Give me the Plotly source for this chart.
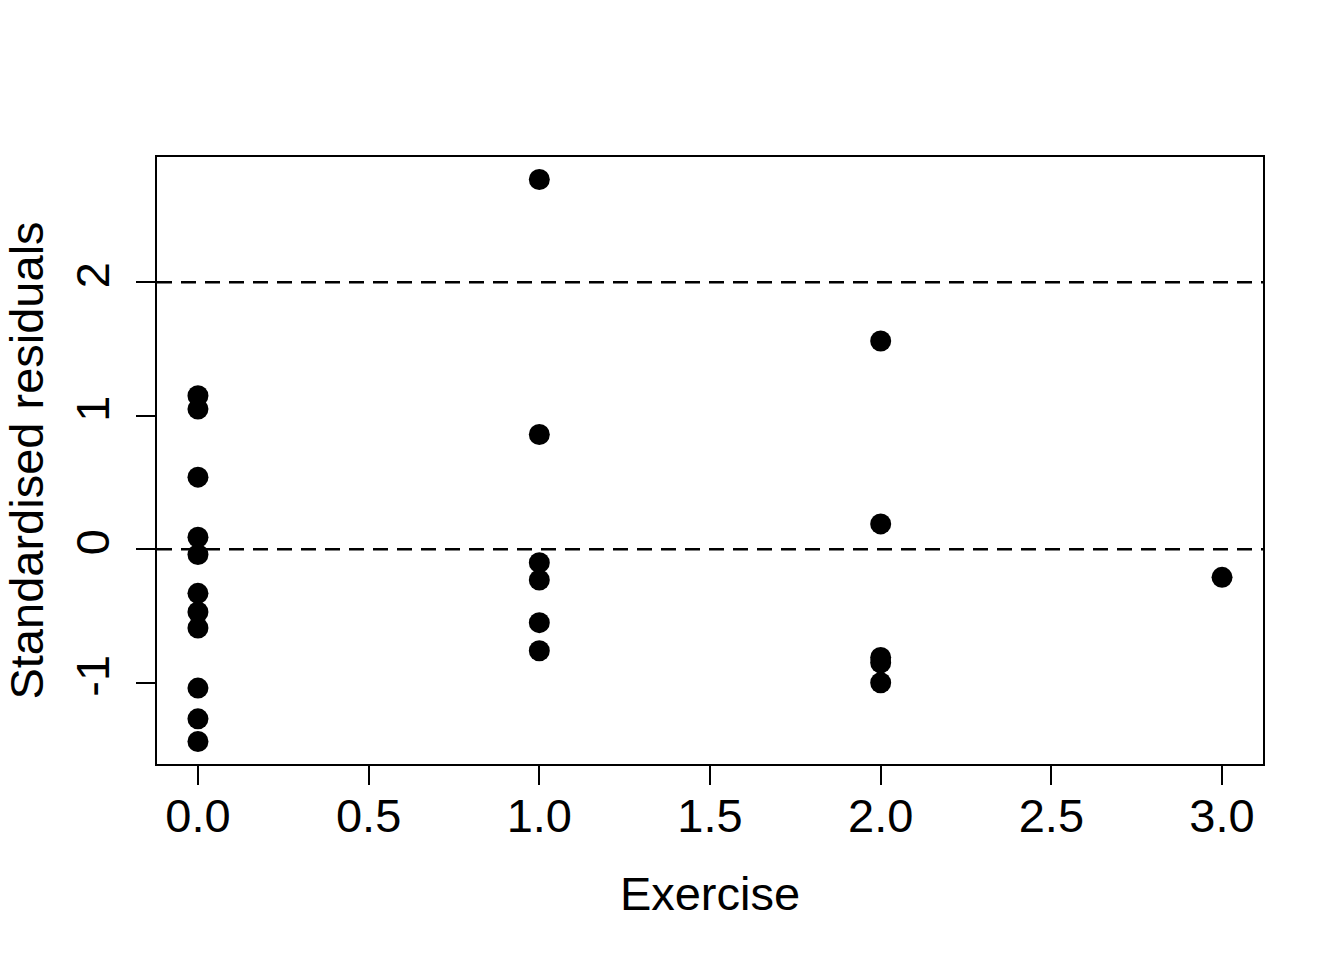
import plotly.graph_objects as go

exercise = [0]*11 + [1]*6 + [2]*5 + [3]
std_resid = [1.15, 1.05, 0.54, 0.09, -0.04, -0.33, -0.47, -0.59, -1.04, -1.27, -1.44,
             2.77, 0.86, -0.10, -0.23, -0.55, -0.76,
             1.56, 0.19, -0.81, -0.85, -1.00,
             -0.21]
ref_lines = [0, 2]
x_ticks = [0, 0.5, 1, 1.5, 2, 2.5, 3]
x_ticklabels = ["0.0", "0.5", "1.0", "1.5", "2.0", "2.5", "3.0"]
y_ticks = [-1, 0, 1, 2]
y_ticklabels = ["-1", "0", "1", "2"]

FONT = "Liberation Sans, Arial, sans-serif"
FS = 47

fig = go.Figure()
fig.add_trace(go.Scatter(
    x=exercise, y=std_resid, mode="markers",
    marker=dict(size=21, color="black", line=dict(width=0)),
    showlegend=False, cliponaxis=False,
))

for yv in ref_lines:
    fig.add_shape(type="line", xref="paper", yref="y", x0=0, x1=1, y0=yv, y1=yv,
                  line=dict(color="black", width=2.6, dash="15px,9px"))

xmin, xmax = min(exercise), max(exercise)
ymin, ymax = min(std_resid), max(std_resid)
xpad = (xmax - xmin) * 0.04
ypad = (ymax - ymin) * 0.04

fig.update_layout(
    width=1344, height=960,
    margin=dict(l=157, r=81, t=157, b=196),
    paper_bgcolor="white", plot_bgcolor="white",
    font=dict(family=FONT, size=FS, color="black"),
    xaxis=dict(
        range=[xmin - xpad, xmax + xpad],
        tickmode="array", tickvals=x_ticks, ticktext=x_ticklabels,
        ticks="outside", ticklen=19, tickwidth=1.6, tickcolor="black",
        ticklabelstandoff=-9,
        showline=True, linecolor="black", linewidth=1.8, mirror=True,
        showgrid=False, zeroline=False,
        tickfont=dict(size=FS),
        title=dict(text="Exercise", font=dict(size=FS), standoff=36),
    ),
    yaxis=dict(
        range=[ymin - ypad, ymax + ypad],
        tickmode="array", tickvals=y_ticks, ticktext=y_ticklabels,
        ticks="outside", ticklen=19, tickwidth=1.6, tickcolor="black",
        tickangle=-90, ticklabelstandoff=8,
        showline=True, linecolor="black", linewidth=1.8, mirror=True,
        showgrid=False, zeroline=False,
        tickfont=dict(size=FS),
        title=dict(text="Standardised residuals", font=dict(size=FS), standoff=14),
    ),
)

fig.write_html("out.html")
